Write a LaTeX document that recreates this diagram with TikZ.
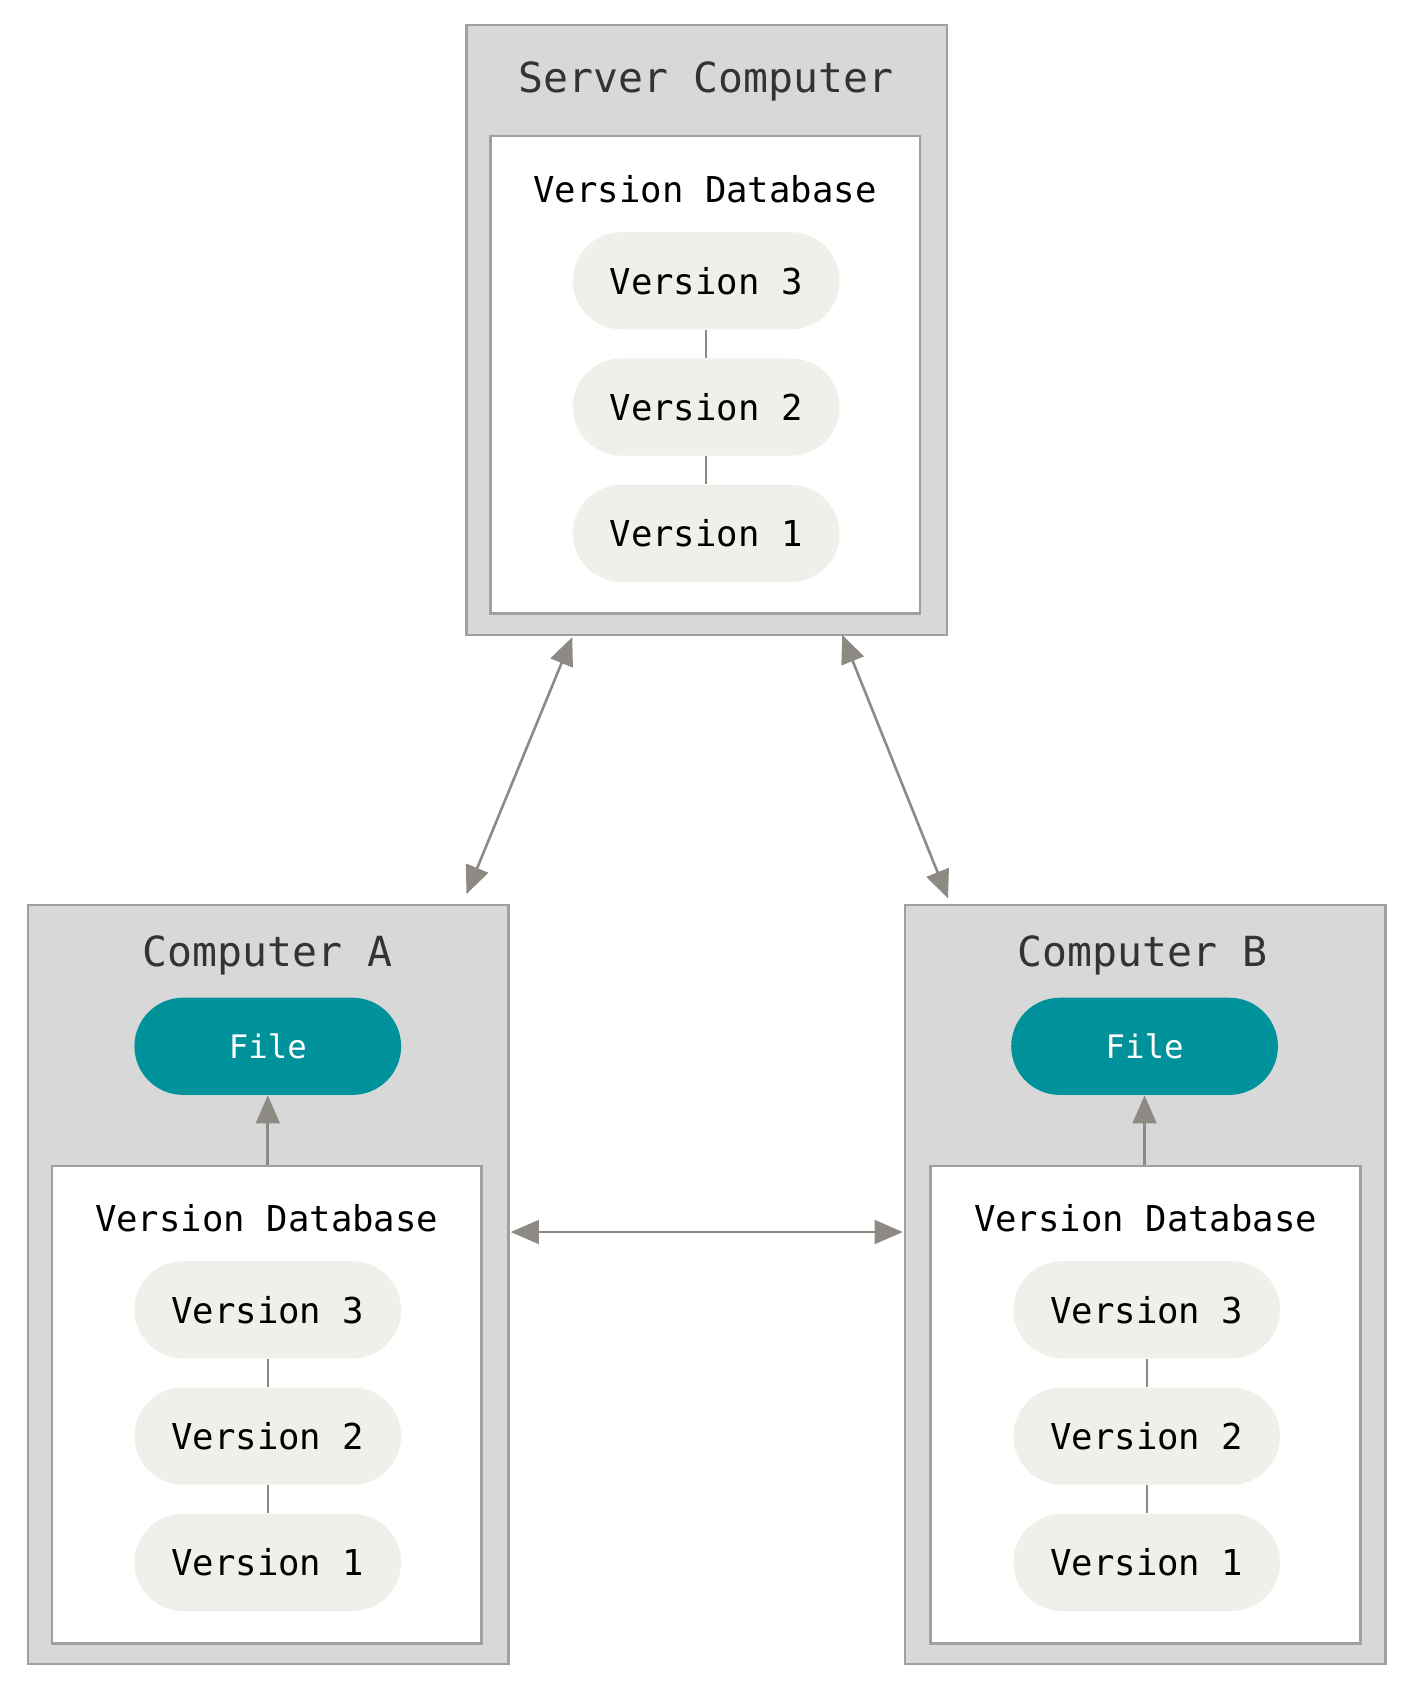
\documentclass[tikz,border=0pt]{standalone}
\usepackage{fontspec}
\setmainfont{DejaVu Sans Mono}
\usetikzlibrary{arrows.meta}
\definecolor{outerc}{HTML}{D8D8D8}
\definecolor{borderc}{HTML}{A0A0A0}
\definecolor{pillc}{HTML}{F0EFEA}
\definecolor{arrc}{HTML}{8C8A82}
\definecolor{teal}{HTML}{00929A}
\definecolor{txt}{HTML}{333333}
\begin{document}
\begin{tikzpicture}[x=0.5pt,y=-0.5pt,
 outer/.style={fill=outerc,draw=borderc,line width=1.2pt},
 inner/.style={fill=white,draw=borderc,line width=1.2pt},
 title/.style={font=\fontsize{19.2}{22}\selectfont,text=txt},
 db/.style={font=\fontsize{16.5}{20}\selectfont,text=black},
 pill/.style={fill=pillc,rounded corners=22.5pt,minimum width=123.5pt,minimum height=45pt,font=\fontsize{16.5}{20}\selectfont,text=black},
 file/.style={fill=teal,rounded corners=22.5pt,minimum width=123.5pt,minimum height=45pt,font=\fontsize{15}{18}\selectfont,text=white},
 link/.style={draw=arrc,line width=1pt},
 tip/.tip={Triangle[length=13pt,width=11pt]},
 arr/.style={draw=arrc,line width=1.2pt,tip-tip}]
\useasboundingbox (0,0) rectangle (1309,1567);
% server
\node[outer,minimum width=222.5pt,minimum height=282.5pt,inner sep=0pt] (S) at (654.5,305.5) {};
\node[inner,minimum width=199pt,minimum height=221pt,inner sep=0pt] (SI) at (653,347) {};
\node[title] (St) at (654,75) {Server Computer};
\node[db] (Sd) at (653,175) {Version Database};
\node[pill] (S3) at (654,260) {Version 3};
\node[pill] (S2) at (654,377) {Version 2};
\node[pill] (S1) at (654,494) {Version 1};
\draw[link] (S3) -- (S2); \draw[link] (S2) -- (S1);
% computer A
\node[outer,minimum width=222.5pt,minimum height=351.5pt,inner sep=0pt] (A) at (248.5,1189.5) {};
\node[inner,minimum width=199pt,minimum height=221pt,inner sep=0pt] (AI) at (247,1301) {};
\node[title] (At) at (248,885) {Computer A};
\node[file] (Af) at (248,969) {File};
\node[db] (Ad) at (247,1128) {Version Database};
\node[pill] (A3) at (248,1213) {Version 3};
\node[pill] (A2) at (248,1330) {Version 2};
\node[pill] (A1) at (248,1447) {Version 1};
\draw[link] (A3) -- (A2); \draw[link] (A2) -- (A1);
\draw[draw=arrc,line width=1.2pt,-tip] (AI.north-|Af) -- (Af.south);
% computer B
\node[outer,minimum width=222.5pt,minimum height=351.5pt,inner sep=0pt] (B) at (1060.5,1189.5) {};
\node[inner,minimum width=199pt,minimum height=221pt,inner sep=0pt] (BI) at (1061,1301) {};
\node[title] (Bt) at (1058,885) {Computer B};
\node[file] (Bf) at (1060,969) {File};
\node[db] (Bd) at (1061,1128) {Version Database};
\node[pill] (B3) at (1062,1213) {Version 3};
\node[pill] (B2) at (1062,1330) {Version 2};
\node[pill] (B1) at (1062,1447) {Version 1};
\draw[link] (B3) -- (B2); \draw[link] (B2) -- (B1);
\draw[draw=arrc,line width=1.2pt,-tip] (BI.north-|Bf) -- (Bf.south);
% connectors
\coordinate (s1) at (530,590); \coordinate (a1) at (432,828);
\coordinate (s2) at (780,588); \coordinate (b1) at (878,832);
\coordinate (ah) at (473,1141); \coordinate (bh) at (836,1141);
\draw[arr] (s1) -- (a1);
\draw[arr] (s2) -- (b1);
\draw[arr] (ah) -- (bh);
\end{tikzpicture}
\end{document}
